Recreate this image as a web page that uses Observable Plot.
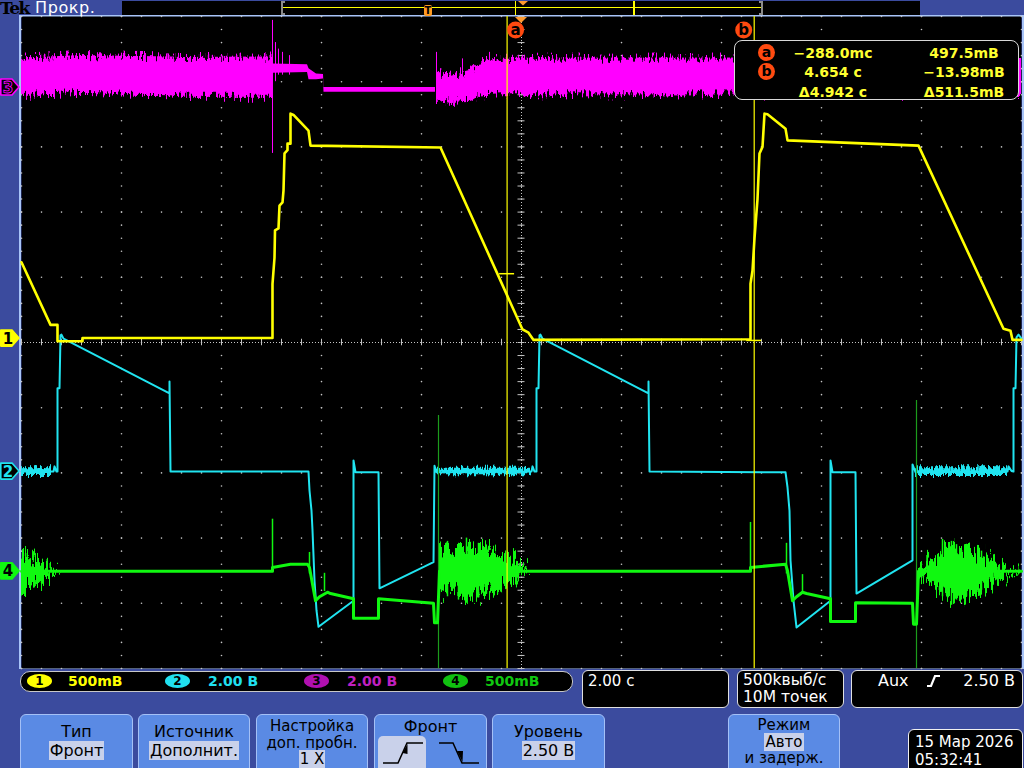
<!DOCTYPE html>
<html><head><meta charset="utf-8">
<script src="https://cdn.jsdelivr.net/npm/d3@7"></script>
<script src="https://cdn.jsdelivr.net/npm/@observablehq/plot@0.6"></script>
<style>
html,body{margin:0;padding:0}
body{width:1024px;height:768px;overflow:hidden;position:relative;background:#3b4b9e;font-family:"DejaVu Sans",sans-serif}
.a{position:absolute;white-space:nowrap}
#chart{position:absolute;left:0;top:0;width:1024px;height:768px}
.btn{position:absolute;top:714px;height:62px;background:#5a8ae4;border:1px solid #a4c0f6;border-radius:6px;box-sizing:border-box;color:#000;font-size:16px}
.btn .l{position:absolute;left:0;right:0;text-align:center;line-height:18px;white-space:nowrap}
.btn.s3 .l{font-size:15px;line-height:17px}
.hl{background:#c9d1ea;padding:0 1px}
.box{position:absolute;background:#000;border:1px solid #e0e0e0;border-radius:6px;box-sizing:border-box;color:#fff}
.badge{position:absolute;top:674px;width:25px;height:14px;border-radius:50%;font:bold 12px "DejaVu Sans";line-height:14px;text-align:center;color:#000}
.st{position:absolute;top:672px;font:bold 14px "DejaVu Sans";line-height:18px;white-space:nowrap}
.ro{position:absolute;width:130px;text-align:center;font:bold 14px "DejaVu Sans";line-height:18px;color:#ffff30;white-space:nowrap}
.rc{position:absolute;left:23px;width:17px;height:17px;border-radius:50%;background:#ff4a10;color:#000;font:bold 14px "DejaVu Sans";line-height:16px;text-align:center}
</style></head>
<body>
<div class="a" style="left:19px;top:15px;width:1005px;height:1.5px;background:#a8c4f8"></div>
<div class="a" style="left:19px;top:15px;width:1.5px;height:654px;background:#a8c4f8"></div>
<div class="a" style="left:19px;top:667.5px;width:1005px;height:1.5px;background:#a8c4f8"></div>
<div class="a" style="left:1021.5px;top:15px;width:2px;height:654px;background:#a8c4f8"></div>
<div id="chart"></div>

<div class="a" style="left:0px;top:-2px;font:bold 17px 'DejaVu Serif';letter-spacing:-1.5px;color:#000;line-height:20px">Tek</div>
<div class="a" style="left:35px;top:-2px;font:16px 'DejaVu Sans';letter-spacing:0.6px;color:#fff;line-height:20px">Прокр.</div>
<div class="a" style="left:122px;top:1px;width:798px;height:14px;background:#000"></div>
<div id="rec"></div>

<div class="box" id="readout" style="left:734px;top:40px;width:285px;height:60px;border-radius:8px;border-color:#d8d8d8"></div>

<div class="a" style="left:20px;top:671px;width:553px;height:21px;background:#000;border:1px solid #c8c8c8;border-radius:10px;box-sizing:border-box"></div>
<div class="badge" style="left:27px;background:#ffff00">1</div>
<div class="st" style="left:68px;color:#ffff00">500mВ</div>
<div class="badge" style="left:165px;background:#20e0f0">2</div>
<div class="st" style="left:208px;color:#20e0f0">2.00 В</div>
<div class="badge" style="left:304px;background:#b010b0">3</div>
<div class="st" style="left:347px;color:#c020c0">2.00 В</div>
<div class="badge" style="left:443px;background:#10c010">4</div>
<div class="st" style="left:485px;color:#10c810">500mВ</div>

<div class="box" style="left:582px;top:670px;width:147px;height:38px"><div class="a" style="left:5px;top:1px;font-size:15px;line-height:18px">2.00 с</div></div>
<div class="box" style="left:737px;top:670px;width:107px;height:38px"><div class="a" style="left:5px;top:1px;font-size:15.5px;line-height:17px">500kвыб/с<br>10M точек</div></div>
<div class="box" style="left:851px;top:670px;width:172px;height:38px">
  <div class="a" style="left:26px;top:1px;font-size:16px;line-height:18px">Aux</div>
  <svg class="a" style="left:74px;top:3px" width="16" height="14"><path d="M1,12 H5 L9,2 H14" fill="none" stroke="#fff" stroke-width="2.2"/></svg>
  <div class="a" style="right:7px;top:1px;font-size:16px;line-height:18px">2.50 В</div>
</div>

<div class="btn" style="left:20px;width:113px"><div class="l" style="top:8px">Тип</div><div class="l" style="top:27px"><span class="hl">Фронт</span></div></div>
<div class="btn" style="left:138px;width:112px"><div class="l" style="top:8px">Источник</div><div class="l" style="top:27px"><span class="hl">Дополнит.</span></div></div>
<div class="btn s3" style="left:256px;width:112px"><div class="l" style="top:3px">Настройка</div><div class="l" style="top:20px">доп. пробн.</div><div class="l" style="top:36px"><span class="hl">1 X</span></div></div>
<div class="btn" style="left:374px;width:113px"><div class="l" style="top:3px">Фронт</div>
  <div class="a" style="left:3px;top:21px;width:48px;height:40px;background:#c9d1ea;border-radius:5px"></div>
  <svg class="a" style="left:0;top:20px" width="113" height="40">
    <path d="M8,28 H23 L32,8 H48" fill="none" stroke="#000" stroke-width="1.5"/>
    <path d="M27.5,18 L32.5,9 L32.5,19 Z" fill="#000"/>
    <path d="M64,8 H78 L87,28 H104" fill="none" stroke="#000" stroke-width="1.5"/>
    <path d="M82,16 L87.5,27 L88,16 Z" fill="#000"/>
  </svg>
</div>
<div class="btn" style="left:492px;width:113px"><div class="l" style="top:8px">Уровень</div><div class="l" style="top:27px"><span class="hl">2.50 В</span></div></div>
<div class="btn s3" style="left:728px;width:112px"><div class="l" style="top:2px">Режим</div><div class="l" style="top:19px"><span class="hl">Авто</span></div><div class="l" style="top:35px">и задерж.</div></div>
<div class="box" style="left:908px;top:729px;width:115px;height:46px;border-color:#f0f0f0"><div class="a" style="left:6px;top:3px;font-size:15px;line-height:18px">15 Мар 2026<br>05:32:41</div></div>

<script>
// ---- scope settings ----
const T_DOMAIN = [-10, 10];          // 2.00 s/div, 10 divisions
const V_DOMAIN = [-5, 5];            // screen divisions
const chOffsets = {1: 0.06, 2: -1.98, 3: 3.91, 4: -3.51}; // ground markers, div
const ch1VoltsPerDiv = 0.5;
const cursorA = {t: -0.288, v: 0.4975};
const cursorB = {t: 4.654, v: -0.01398};

// ---- CH1 (yellow) [t s, div] ----
const ch1 = [[-10,1.23],[-9.42,0.27],[-9.28,0.27],[-9.28,0.02],[-8.78,0.02],[-8.78,0.07],[-4.98,0.07],
 [-4.98,0.9],[-4.94,1.3],[-4.93,1.72],[-4.86,1.75],[-4.84,2.1],[-4.78,2.15],[-4.76,2.33],[-4.74,2.9],[-4.68,2.95],[-4.68,3.05],[-4.62,3.05],[-4.62,3.51],[-4.56,3.49],[-4.26,3.25],[-4.22,3.02],[-1.62,2.99],[0.02,0.2],[0.14,0.15],[0.24,0.04],[4.58,0.05],
 [4.58,0.9],[4.62,1.1],[4.66,1.6],[4.72,2.2],[4.76,2.9],[4.82,3.0],[4.86,3.51],[4.92,3.5],[5.28,3.28],[5.32,3.1],[7.94,3.02],[9.64,0.21],[9.78,0.18],[9.82,0.04],[10,0.04]];

// ---- CH2 (cyan) ----
const ch2 = [[-10,-1.98],[-9.36,-1.98],[-9.34,-1.9],[-9.3,-1.98],[-9.28,-1.98],[-9.28,-0.7],[-9.24,-0.7],[-9.22,0.11],[-9.2,0.12],[-9.16,0.06],[-7.04,-0.78],[-7.04,-0.6],[-7.02,-1.98],
 [-4.26,-1.98],[-4.24,-2.27],[-4.2,-2.58],[-4.18,-2.88],[-4.14,-3.65],[-4.1,-4.11],[-4.06,-4.36],[-3.36,-3.96],[-3.36,-1.81],[-3.32,-1.99],[-2.86,-1.99],[-2.84,-3.77],[-1.76,-3.37],[-1.74,-1.89],[-1.7,-1.99],
 [0.2,-1.98],[0.22,-1.9],[0.26,-1.98],[0.3,-1.98],[0.3,-0.7],[0.34,-0.7],[0.36,0.11],[0.38,0.12],[0.42,0.06],[2.54,-0.78],[2.54,-0.6],[2.56,-1.98],
 [5.28,-1.99],[5.32,-2.22],[5.36,-2.58],[5.38,-3.34],[5.44,-3.96],[5.5,-4.37],[6.18,-3.96],[6.18,-1.81],[6.22,-1.99],[6.68,-1.99],[6.7,-3.85],[7.82,-3.34],[7.82,-1.87],[7.88,-1.99],
 [9.72,-1.98],[9.74,-1.9],[9.8,-1.97],[9.84,-1.98],[9.84,-0.7],[9.88,-0.7],[9.9,0.08],[9.94,0.12],[10,0.06]];
// noisy stretches of CH2 [t, low, high]
const ch2Noise1 = [[-10,-2.04,-1.92],[-9.4,-2.04,-1.92]];
const ch2Noise2 = [[-1.7,-2.03,-1.93],[0.2,-2.03,-1.93]];
const ch2Noise3 = [[7.88,-2.04,-1.92],[9.72,-2.04,-1.92]];

// ---- CH3 (magenta) envelope [t, low, high] ----
const ch3Band1 = [[-10,3.79,4.36],[-8.8,3.82,4.40],[-7.0,3.80,4.38],[-6.8,3.76,4.37],[-4.98,3.76,4.38]];
const ch3Quiet = [[-4.975,4.13,4.27],[-4.28,4.14,4.26],[-4.25,4.03,4.20],[-4.1,4.03,4.12],[-3.96,4.04,4.11],[-3.95,3.84,3.91],[-1.72,3.84,3.91]];
const ch3Band2 = [[-1.70,3.72,4.15],[-1.4,3.68,4.10],[-1.0,3.70,4.18],[-0.84,3.78,4.30],[-0.4,3.80,4.36],[10,3.79,4.37]];
const ch3Spikes = [[-4.98,2.9,4.94],[-4.92,4.0,4.6],[-4.86,4.1,4.5],[-4.78,4.1,4.45],[-4.64,4.1,4.4],[-1.7,3.65,4.45],[-1.62,3.7,4.2],[-1.18,3.68,4.35],[-0.64,3.8,4.45]];

// ---- CH4 (green) ----
const ch4 = [[-10,-3.51],[-4.98,-3.51],[-4.98,-3.45],[-4.62,-3.4],[-4.28,-3.4],[-4.24,-3.45],[-4.12,-3.96],[-4.04,-3.9],[-3.88,-3.83],[-3.82,-3.85],[-3.36,-3.93],[-3.36,-4.23],[-2.86,-4.23],[-2.86,-3.93],[-1.76,-4.0],[-1.74,-4.3],[-1.68,-4.3],[-1.64,-3.51],
 [4.58,-3.51],[4.58,-3.45],[5.28,-3.4],[5.32,-3.5],[5.42,-3.96],[5.5,-3.9],[5.62,-3.83],[5.7,-3.85],[6.18,-3.93],[6.18,-4.28],[6.68,-4.28],[6.68,-3.99],[7.82,-4.0],[7.84,-4.32],[7.9,-4.32],[7.94,-3.51],[10,-3.51]];
const ch4Burst0 = [[-10,-3.8,-3.26],[-9.72,-3.73,-3.34],[-9.52,-3.62,-3.42],[-9.32,-3.56,-3.47],[-9.2,-3.53,-3.49]];
const ch4Burst1 = [[-1.64,-3.88,-3.11],[-1.42,-3.8,-3.19],[-1.02,-3.96,-3.11],[-0.62,-3.8,-3.16],[-0.32,-3.73,-3.27],[-0.12,-3.68,-3.34],[0.02,-3.57,-3.42],[0.18,-3.53,-3.49]];
const ch4Burst2 = [[7.94,-3.62,-3.42],[8.18,-3.68,-3.34],[8.48,-3.88,-3.19],[8.78,-3.96,-3.16],[9.08,-3.85,-3.22],[9.38,-3.73,-3.31],[9.58,-3.62,-3.42],[9.78,-3.56,-3.48],[9.98,-3.53,-3.49]];
const ch4Spikes = [[-4.98,-3.51,-2.71],[-4.24,-3.55,-3.22],[-3.94,-3.82,-3.54],[4.58,-3.51,-2.76],[5.3,-3.55,-3.08],[5.62,-3.83,-3.56],
 [-1.48,-3.9,-3.05],[-1.26,-3.95,-3.1],[-1.1,-4.0,-3.0],[-0.86,-3.92,-3.08],[-0.7,-3.86,-3.15],
 [8.42,-3.9,-3.02],[8.6,-4.03,-3.05],[8.7,-3.95,-3.1],[8.9,-3.9,-3.12],[9.2,-3.8,-3.2]];
const ch4Tall = [[-1.66,-5,-1.12],[7.9,-5,-0.89]];

// ---- graticule ----
const majorT = d3.range(-10, 10.001, 2), majorV = d3.range(-5, 5.001, 1);
const minorT = d3.range(-10, 10.001, 0.4), minorV = d3.range(-5, 5.001, 0.2);
const rowDots = majorV.flatMap(v => minorT.map(t => [t, v]));
const colDots = majorT.flatMap(t => minorV.map(v => [t, v]));
const G = "#c4c4c4";
const band = (data, fill) => Plot.areaY(data, {x: d => d[0], y1: d => d[1], y2: d => d[2], fill});
const spikes = (data, stroke, w) => Plot.ruleX(data, {x: d => d[0], y1: d => d[1], y2: d => d[2], stroke, strokeWidth: w});

const YEL = "#ffff00", CYA = "#20e4f0", MAG = "#ff00ff", GRN = "#10f810";
const lvlA = chOffsets[1] + cursorA.v / ch1VoltsPerDiv;
const lvlB = chOffsets[1] + cursorB.v / ch1VoltsPerDiv;

// area marks in drawing order, with the texture filter each one gets
const areaFilters = ["nBig", "nBig", null, "nSmall", "nSmall", "nSmall", "nMid", "nMid", "nMid"];

const chart = Plot.plot({
  width: 1024, height: 768,
  marginLeft: 21, marginRight: 3, marginTop: 16, marginBottom: 100,
  x: {domain: T_DOMAIN, axis: null},
  y: {domain: V_DOMAIN, axis: null},
  style: {background: "transparent"},
  marks: [
    Plot.frame({fill: "black", stroke: "none"}),
    Plot.dot(rowDots, {x: d => d[0], y: d => d[1], r: 0.8, fill: G}),
    Plot.dot(colDots, {x: d => d[0], y: d => d[1], r: 0.8, fill: G}),
    Plot.ruleX([0], {stroke: G, strokeDasharray: "1 2"}),
    Plot.ruleY([0], {stroke: G, strokeDasharray: "1 2"}),
    Plot.ruleY(minorV, {y: d => d, x1: () => -0.07, x2: () => 0.07, stroke: G}),
    Plot.ruleX(minorT, {x: d => d, y1: () => -0.05, y2: () => 0.05, stroke: G}),
    // CH3
    band(ch3Band1, MAG),
    band(ch3Band2, MAG),
    band(ch3Quiet, MAG),
    spikes(ch3Spikes, MAG, 1),
    // CH2
    band(ch2Noise1, CYA),
    band(ch2Noise2, CYA),
    band(ch2Noise3, CYA),
    Plot.line(ch2, {x: d => d[0], y: d => d[1], stroke: CYA, strokeWidth: 2}),
    // CH4
    band(ch4Burst0, GRN),
    band(ch4Burst1, GRN),
    band(ch4Burst2, GRN),
    spikes(ch4Spikes, GRN, 1.5),
    spikes(ch4Tall, "#1c9c1c", 1.2),
    Plot.line(ch4, {x: d => d[0], y: d => d[1], stroke: GRN, strokeWidth: 3}),
    // CH1
    Plot.line(ch1, {x: d => d[0], y: d => d[1], stroke: YEL, strokeWidth: 2.6}),
    // cursors
    Plot.ruleX([cursorA.t, cursorB.t], {x: d => d, stroke: YEL, strokeWidth: 1.2}),
    Plot.ruleY([{t: cursorA.t, v: lvlA}, {t: cursorB.t, v: lvlB}], {y: "v", x1: d => d.t - 0.15, x2: d => d.t + 0.15, stroke: YEL, strokeWidth: 1.5})
  ]
});
document.getElementById("chart").appendChild(chart);

const xs = chart.scale("x"), ys = chart.scale("y");
const svg = d3.select(chart);
const defs = svg.insert("defs", ":first-child");
function noiseFilter(id, fx, fy, scale, seed, oct) {
  const f = defs.append("filter").attr("id", id).attr("filterUnits", "userSpaceOnUse")
    .attr("x", 0).attr("y", 0).attr("width", 1024).attr("height", 768)
    .attr("color-interpolation-filters", "sRGB");
  f.append("feTurbulence").attr("type", "fractalNoise").attr("baseFrequency", `${fx} ${fy}`)
    .attr("numOctaves", oct).attr("seed", seed).attr("result", "n");
  f.append("feColorMatrix").attr("in", "n").attr("type", "matrix")
    .attr("values", "0 0 0 0 0.5  0 2 0 0 -0.5  0 0 1 0 0  0 0 0 0 1").attr("result", "m");
  f.append("feDisplacementMap").attr("in", "SourceGraphic").attr("in2", "m")
    .attr("scale", scale).attr("xChannelSelector", "R").attr("yChannelSelector", "G");
}
noiseFilter("nBig", 0.5, 0.07, 11, 4, 3);
noiseFilter("nMid", 0.45, 0.05, 22, 7, 2);
noiseFilter("nSmall", 0.6, 0.1, 6, 2, 2);
svg.selectAll('g[aria-label="area"]').each(function(_, i) {
  if (areaFilters[i]) this.setAttribute("filter", `url(#${areaFilters[i]})`);
});

// channel ground markers
const chStyle = {1: [YEL, YEL, "#000"], 2: ["#000", CYA, CYA], 3: ["#000", MAG, "#000"], 4: [GRN, GRN, "#000"]};
const gm = svg.append("g");
Object.entries(chOffsets).forEach(([n, off]) => {
  const y = ys.apply(off), [fill, stroke, tcol] = chStyle[n];
  gm.append("path").attr("d", `M0.8,${y - 8} H12 L19,${y} L12,${y + 8} H0.8 Z`)
    .attr("fill", fill).attr("stroke", stroke).attr("stroke-width", 1.6).attr("stroke-linejoin", "round");
  gm.append("text").attr("x", 8).attr("y", y + 5.5).attr("text-anchor", "middle")
    .attr("font-family", "DejaVu Sans").attr("font-weight", "bold").attr("font-size", 15)
    .attr("fill", tcol).attr("stroke", n === "3" ? MAG : "none").attr("stroke-width", 0.8).text(n);
});
const x0 = xs.apply(0);
gm.append("path").attr("d", `M${x0 - 6},17 L${x0 + 6},17 L${x0},23 Z`).attr("fill", "#ff9a30");
[[cursorA, "a", 9], [cursorB, "b", -10]].forEach(([c, lab, dx]) => {
  const cx = xs.apply(c.t) + dx;
  gm.append("circle").attr("cx", cx).attr("cy", 30).attr("r", 8.5).attr("fill", "#ff4a10");
  gm.append("text").attr("x", cx).attr("y", 35).attr("text-anchor", "middle")
    .attr("font-family", "DejaVu Sans").attr("font-weight", "bold").attr("font-size", 15).attr("fill", "#000").text(lab);
});

// record view in the top bar
const rec = document.getElementById("rec");
const recX = t => 283 + (xs.apply(t) - 21) * 0.479;
rec.innerHTML = `
 <div class="a" style="left:283px;top:7px;width:479px;height:1.2px;background:#ffff00"></div>
 <div class="a" style="left:281px;top:1px;width:2px;height:14px;background:#8c8c8c"></div>
 <div class="a" style="left:281px;top:1px;width:4px;height:2px;background:#8c8c8c"></div>
 <div class="a" style="left:281px;top:13px;width:4px;height:2px;background:#8c8c8c"></div>
 <div class="a" style="left:761px;top:1px;width:2px;height:14px;background:#8c8c8c"></div>
 <div class="a" style="left:759px;top:1px;width:4px;height:2px;background:#8c8c8c"></div>
 <div class="a" style="left:759px;top:13px;width:4px;height:2px;background:#8c8c8c"></div>
 <div class="a" style="left:${recX(cursorA.t) - 0.6}px;top:1px;width:1.2px;height:14px;background:#ffff00"></div>
 <div class="a" style="left:${recX(cursorB.t) - 0.6}px;top:1px;width:1.2px;height:14px;background:#ffff00"></div>
 <svg class="a" style="left:${recX(0) - 5}px;top:1px" width="10" height="5"><path d="M0,0 H10 L5,4.5 Z" fill="#ff9a30"/></svg>
 <div class="a" style="left:424px;top:5px;width:8px;height:11px;background:#ff9a20;border-radius:2px;color:#000;font:bold 10px 'DejaVu Sans';line-height:11px;text-align:center">T</div>`;

// cursor readout
const fmt = x => x.toPrecision(4).replace("-", "−");
const fT = t => Math.abs(t) < 1 ? fmt(t * 1000) + "mс" : fmt(t) + " с";
const fV = v => Math.abs(v) < 1 ? fmt(v * 1000) + "mВ" : fmt(v) + " В";
const rows = [
  ["a", fT(cursorA.t), fV(cursorA.v)],
  ["b", fT(cursorB.t), fV(cursorB.v)],
  [null, "Δ" + fT(cursorB.t - cursorA.t), "Δ" + fV(cursorA.v - cursorB.v)]
];
document.getElementById("readout").innerHTML = rows.map((r, i) => {
  const top = [3, 22, 42][i];
  return (r[0] ? `<div class="rc" style="top:${top}px">${r[0]}</div>` : "") +
    `<div class="ro" style="left:33px;top:${top}px">${r[1]}</div>` +
    `<div class="ro" style="left:164px;top:${top}px">${r[2]}</div>`;
}).join("");
</script>
</body></html>
